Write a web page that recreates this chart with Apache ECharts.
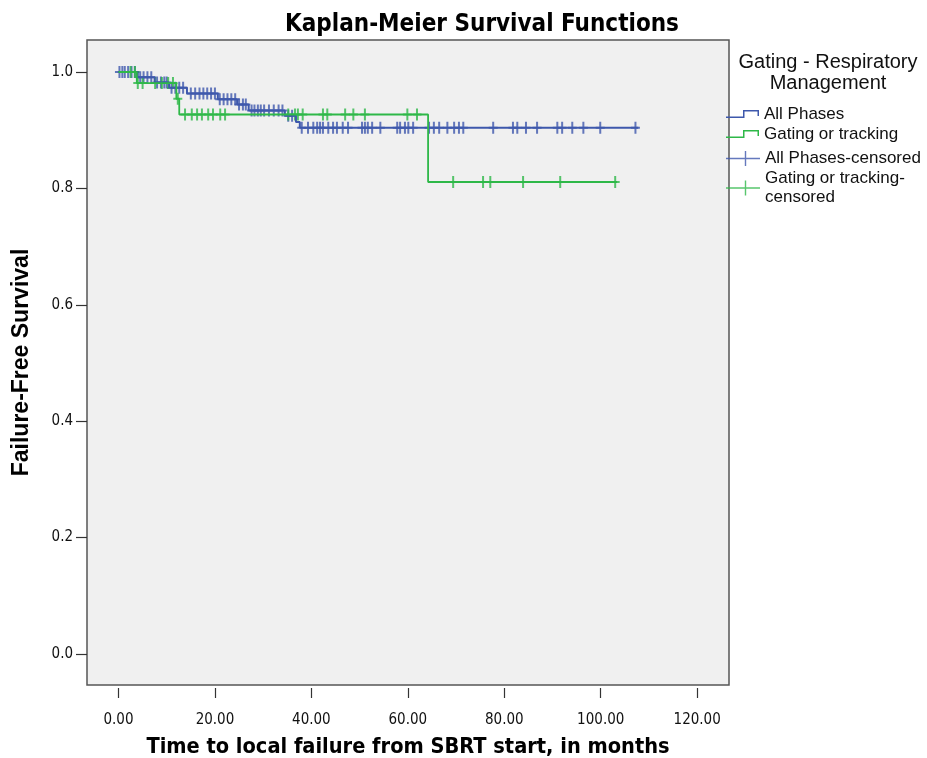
<!DOCTYPE html>
<html>
<head>
<meta charset="utf-8">
<title>Kaplan-Meier Survival Functions</title>
<script src="https://cdn.jsdelivr.net/npm/echarts@6/dist/echarts.min.js"></script>
<style>
  * { margin: 0; padding: 0; }
  body { background: #fff; }
  #chart { width: 927px; height: 758px; }
</style>
</head>
<body>
<div id="chart"></div>
<script>
// step times (months) and survival reached at each step
const allTimes = [0, 4.0, 7.5, 10.5, 14.2, 20.6, 24.6, 27.0, 34.5, 36.8, 37.6];
const allSurv = [1.0, 0.991, 0.982, 0.973, 0.963, 0.953, 0.944, 0.934, 0.925, 0.914, 0.904];
const allEnd = 107.8;
const allCensored = [0.2, 0.8, 1.3, 2.0, 2.7, 3.4, 4.5, 5.2, 6.0, 6.8, 8.0, 8.8, 9.5, 10.0,
  11.0, 11.8, 12.6, 13.4, 15.0, 15.9, 16.8, 17.6, 18.4, 19.2, 20.0, 21.0, 21.8, 22.6, 23.4,
  24.2, 25.0, 25.8, 26.4, 27.6, 28.2, 28.9, 29.5, 30.2, 31.2, 32.2, 33.2, 34.0, 35.2, 36.0,
  38.0, 39.3, 40.4, 41.2, 41.8, 42.4, 43.5, 44.5, 45.3, 46.5, 47.6, 50.5, 51.1, 51.7, 52.6,
  54.3, 57.8, 58.4, 59.4, 60.1, 61.1, 64.4, 65.4, 66.5, 68.2, 69.6, 70.6, 71.5, 77.7, 81.8,
  82.7, 84.5, 86.8, 91.0, 92.0, 94.1, 96.4, 99.9, 107.2];

const gatTimes = [0, 3.8, 12.0, 12.6, 64.2];
const gatSurv = [1.0, 0.981, 0.954, 0.927, 0.811];
const gatEnd = 103.4;
const gatCensored = [2.5, 3.4, 4.0, 5.0, 7.6, 9.0, 10.3, 11.3, 12.3, 13.8, 15.2, 16.3, 17.3,
  18.6, 19.6, 21.1, 22.1, 35.2, 36.6, 37.2, 38.2, 42.4, 43.3, 47.0, 48.7, 51.1, 59.9, 61.9,
  69.4, 75.6, 77.1, 83.9, 91.6, 103.0];

const xTicks = [0, 20, 40, 60, 80, 100, 120];
const yTicks = [0, 0.2, 0.4, 0.6, 0.8, 1.0];

const blue = '#3E58AC';
const green = '#2EB848';
const narrow = "'Liberation Sans Narrow', 'Arial Narrow', 'DejaVu Sans Condensed', sans-serif";
const sans = "'Liberation Sans', Arial, sans-serif";

function survAt(times, surv, t) {
  let s = surv[0];
  for (let i = 0; i < times.length; i++) {
    if (times[i] <= t) s = surv[i];
  }
  return s;
}
function stepData(times, surv, end) {
  const d = times.map((t, i) => [t, surv[i]]);
  d.push([end, surv[surv.length - 1]]);
  return d;
}
function censorData(times, surv, list) {
  return list.map(t => [t, survAt(times, surv, t)]);
}

const plus = 'path://M3.5,0 H5.5 V5 H9 V7 H5.5 V12 H3.5 V7 H0 V5 H3.5 Z';
const stepIcon = 'path://M0,6.5 H17 V0 H33 V6 H31.5 V1.5 H18.5 V8 H0 Z';
const plusIcon = 'path://M0,6.8 H18.8 V0 H20.2 V6.8 H34 V8.2 H20.2 V15 H18.8 V8.2 H0 Z';

const chart = echarts.init(document.getElementById('chart'));
chart.setOption({
  backgroundColor: '#fff',
  animation: false,
  title: [{
    text: 'Kaplan-Meier Survival Functions',
    left: 477, top: 8, textAlign: 'center',
    textStyle: { fontFamily: narrow, fontWeight: 'bold', fontSize: 24, color: '#000' }
  }, {
    text: 'Gating - Respiratory\nManagement',
    left: 823, top: 47, textAlign: 'center',
    textStyle: { fontFamily: sans, fontWeight: 'normal', fontSize: 20, lineHeight: 21, color: '#111' }
  }],
  legend: [{
    orient: 'vertical', left: 726, top: 104, padding: 0,
    itemWidth: 33, itemHeight: 8, itemGap: 0,
    itemStyle: { borderWidth: 0 },
    textStyle: { fontFamily: sans, fontSize: 17, lineHeight: 20, color: '#111' },
    data: [{ name: 'All Phases', icon: stepIcon }, { name: 'Gating or tracking', icon: stepIcon }]
  }, {
    orient: 'vertical', left: 726, top: 149, padding: 0,
    itemWidth: 34, itemHeight: 15, itemGap: 1,
    itemStyle: { borderWidth: 0 },
    textStyle: { fontFamily: sans, fontSize: 17, lineHeight: 19, color: '#111' },
    formatter: n => n === 'Gating or tracking-censored' ? 'Gating or tracking-\ncensored' : n,
    data: [{ name: 'All Phases-censored', icon: plusIcon }, { name: 'Gating or tracking-censored', icon: plusIcon }]
  }],
  grid: {
    left: 87, top: 40, right: 198, bottom: 73,
    outerBoundsMode: 'none',
    show: true, backgroundColor: '#f0f0f0', borderColor: '#555', borderWidth: 1.5
  },
  xAxis: {
    type: 'value', min: -6.53, max: 126.6, offset: 3,
    name: 'Time to local failure from SBRT start, in months',
    nameLocation: 'middle', nameGap: 48,
    nameTextStyle: { fontFamily: narrow, fontWeight: 'bold', fontSize: 21.6, color: '#000' },
    splitLine: { show: false },
    axisLine: { show: false, onZero: false },
    axisTick: { show: true, length: 10, customValues: xTicks, lineStyle: { color: '#333', width: 1.2 } },
    axisLabel: {
      customValues: xTicks, margin: 25, formatter: v => v.toFixed(2),
      fontFamily: narrow, fontSize: 15, color: '#111'
    }
  },
  yAxis: {
    type: 'value', min: -0.0534, max: 1.055,
    name: 'Failure-Free Survival',
    nameLocation: 'middle', nameGap: 54,
    nameTextStyle: { fontFamily: sans, fontWeight: 'bold', fontSize: 23, color: '#000' },
    splitLine: { show: false },
    axisLine: { show: false, onZero: false },
    axisTick: { show: true, length: 11, customValues: yTicks, lineStyle: { color: '#333', width: 1.2 } },
    axisLabel: {
      customValues: yTicks, margin: 14, formatter: v => v.toFixed(1),
      fontFamily: narrow, fontSize: 15, color: '#111'
    }
  },
  series: [{
    name: 'All Phases', type: 'line', step: 'end', symbol: 'none',
    color: blue, lineStyle: { color: blue, width: 2 },
    data: stepData(allTimes, allSurv, allEnd)
  }, {
    name: 'Gating or tracking', type: 'line', step: 'end', symbol: 'none',
    color: green, lineStyle: { color: green, width: 1.8 },
    data: stepData(gatTimes, gatSurv, gatEnd)
  }, {
    name: 'All Phases-censored', type: 'scatter', symbol: plus, symbolSize: [9, 12],
    itemStyle: { color: blue },
    data: censorData(allTimes, allSurv, allCensored)
  }, {
    name: 'Gating or tracking-censored', type: 'scatter', symbol: plus, symbolSize: [9, 12],
    itemStyle: { color: green },
    data: censorData(gatTimes, gatSurv, gatCensored)
  }]
});
</script>
</body>
</html>
